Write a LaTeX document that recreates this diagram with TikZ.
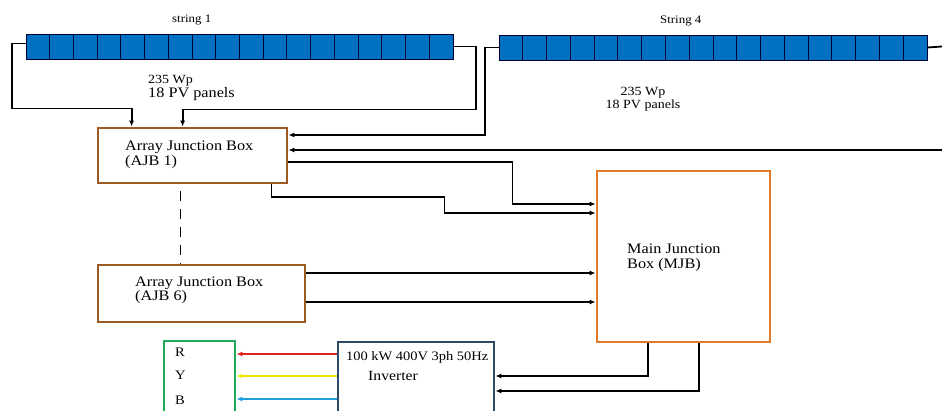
\documentclass[tikz,border=0pt]{standalone}
\usepackage{fontspec}
\setmainfont[FakeStretch=1.12]{Liberation Serif}
\usetikzlibrary{arrows.meta}
\definecolor{panelblue}{HTML}{0070C0}
\definecolor{ajbbrown}{HTML}{9C5A22}
\definecolor{mjborange}{HTML}{E07B2A}
\definecolor{invblue}{HTML}{2E4A6B}
\definecolor{rybgreen}{HTML}{1FA85A}
\definecolor{phaser}{HTML}{E0201B}
\definecolor{phasey}{HTML}{F2E600}
\definecolor{phaseb}{HTML}{1E9FD8}
\tikzset{
  wire/.style={line width=1.8pt,-{Latex[length=6pt,width=5pt]}},
  box/.style={line width=2.8pt,inner sep=0pt},
  txt/.style={anchor=base west,inner sep=0pt},
}

\begin{document}
\begin{tikzpicture}[x=1pt,y=-1pt]
\useasboundingbox (0,0) rectangle (942,411);
\clip (0,0) rectangle (942,411);
% PV strings
\foreach \i in {0,...,17} {
  \filldraw[fill=panelblue,draw=black!80!blue,line width=0.9pt] ({26+\i*23.72},34) rectangle ++(23.72,25);
  \filldraw[fill=panelblue,draw=black!80!blue,line width=0.9pt] ({499+\i*23.78},35) rectangle ++(23.78,25);
}
\node[minimum width=427,minimum height=25,inner sep=0pt] (s1) at (239.5,46.5) {};
\node[minimum width=428,minimum height=25,inner sep=0pt] (s4) at (713,47.5) {};
\node[txt,font=\fontsize{11.5}{13}\selectfont] (s1name) at (172,23) {string 1};
\node[txt,font=\fontsize{11.5}{13}\selectfont] (s4name) at (660,24) {String 4};
\node[txt,font=\fontsize{12.5}{14}\selectfont] (s1wp) at (148,84) {235 Wp};
\node[txt,font=\fontsize{14.5}{16}\selectfont] (s1pv) at (148,98) {18 PV panels};
\node[anchor=base,inner sep=0pt,font=\fontsize{12.5}{14}\selectfont] (s4wp) at (643,96) {235 Wp};
\node[anchor=base,inner sep=0pt,font=\fontsize{12.5}{14}\selectfont] (s4pv) at (643,109) {18 PV panels};

% boxes
\node[box,draw=ajbbrown,minimum width=189,minimum height=55] (ajb1) at (192.5,155.5) {};
\node[box,draw=ajbbrown,minimum width=207,minimum height=57] (ajb6) at (201.5,293.5) {};
\node[box,draw=mjborange,minimum width=173,minimum height=171] (mjb) at (683.5,256.5) {};
\node[box,draw=invblue,minimum width=156,minimum height=76] (inv) at (416,380) {};
\node[box,draw=rybgreen,minimum width=71,minimum height=76] (ryb) at (199.5,379) {};

\node[txt,font=\fontsize{14.5}{16}\selectfont] (ajb1a) at (125,151) {Array Junction Box};
\node[txt,font=\fontsize{14.5}{16}\selectfont] (ajb1b) at (125,166) {(AJB 1)};
\node[txt,font=\fontsize{14.5}{16}\selectfont] (ajb6a) at (135,287) {Array Junction Box};
\node[txt,font=\fontsize{14.5}{16}\selectfont] (ajb6b) at (135,301) {(AJB 6)};
\node[txt,font=\fontsize{14.5}{16}\selectfont] (mjba) at (627,254) {Main Junction};
\node[txt,font=\fontsize{14.5}{16}\selectfont] (mjbb) at (627,269) {Box (MJB)};
\node[txt,font=\fontsize{12.9}{14}\selectfont] (inva) at (346,360) {100 kW 400V 3ph 50Hz};
\node[txt,font=\fontsize{14}{16}\selectfont] (invb) at (368,381) {Inverter};
\foreach \p/\y in {R/356,Y/380,B/404}
  \node[txt,font=\fontsize{13}{15}\selectfont] (ryb\p) at (175,\y) {\p};

% string wiring
\draw[wire] ([yshift=3pt]s1.west) -- ++(-14,0) |- ([xshift=35pt,yshift=18pt]ajb1.north west) -- ([xshift=35pt]ajb1.north west);
\draw[wire] (s1.east) -- ++(23,0) |- ([xshift=86pt,yshift=17pt]ajb1.north west) -- ([xshift=86pt]ajb1.north west);
\draw[wire] (s4.west) -- ++(-14,0) |- ([yshift=20.5pt]ajb1.east);
\coordinate (s4end) at (942,46.5);
\draw[line width=1.8pt] (s4.east) -- (s4end);
\coordinate (farin) at (942,150);
\draw[wire] (farin) -- (farin -| ajb1.east);
\draw[line width=0.9pt,dash pattern=on 10pt off 8pt] ([xshift=-12.5pt,yshift=-7pt]ajb1.south) -- ++(0,73);

% to main junction box
\draw[wire] ([yshift=-6.5pt]ajb1.east) -- ++(224,0) |- ([yshift=52.5pt]mjb.west);
\draw[wire] ([xshift=-17pt]ajb1.south east) -- ++(0,13) -- ++(173,0) |- ([yshift=43.5pt]mjb.west);
\coordinate (a6a) at ([yshift=20.5pt]ajb6.east);
\coordinate (a6b) at ([yshift=-8.5pt]ajb6.east);
\draw[wire] (a6a) -- (a6a -| mjb.west);
\draw[wire] (a6b) -- (a6b -| mjb.west);

% to inverter and phases
\draw[wire] ([xshift=52pt]mjb.south west) |- ([yshift=4pt]inv.east);
\draw[wire] ([xshift=103pt]mjb.south west) |- ([yshift=-11pt]inv.east);
\foreach \col/\dy in {phaser/26,phasey/4,phaseb/-19}
  \draw[wire,\col] ([yshift=\dy pt]inv.west) coordinate (ph) -- (ph -| ryb.east);
\end{tikzpicture}
\end{document}
